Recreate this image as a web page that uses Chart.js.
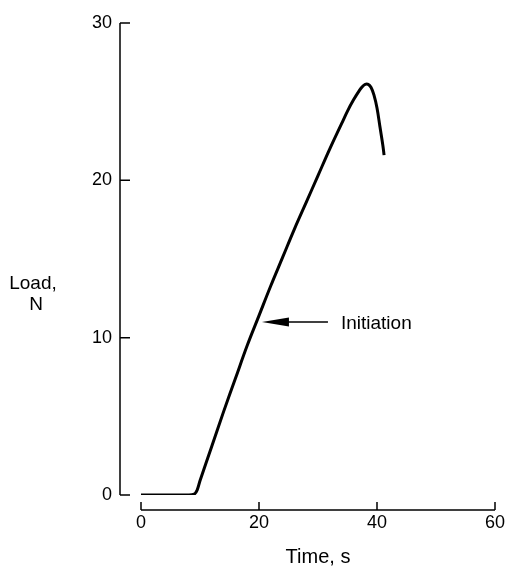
<!DOCTYPE html>
<html>
<head>
<meta charset="utf-8">
<script src="https://cdn.jsdelivr.net/npm/chart.js@4"></script>
<style>
  html, body { margin: 0; padding: 0; background: #fff; }
  #wrap { width: 507px; height: 575px; }
</style>
</head>
<body>
<div id="wrap"><canvas id="loadChart" width="507" height="575"></canvas></div>
<script>
// time (s) and load (N)
const time = [0, 4, 8, 9, 9.5, 10, 12, 14, 16, 18, 20, 22, 24, 26, 28, 30, 32, 34, 35, 36, 37, 37.5, 38, 38.5, 39, 39.5, 40, 40.5, 41, 41.2];
const load = [0, 0, 0, 0.05, 0.3, 0.9, 3.1, 5.3, 7.4, 9.5, 11.4, 13.3, 15.1, 16.9, 18.6, 20.3, 22.0, 23.6, 24.4, 25.1, 25.7, 25.95, 26.1, 26.1, 25.9, 25.4, 24.6, 23.4, 22.2, 21.6];
const xTicks = [0, 20, 40, 60];
const yTicks = [0, 10, 20, 30];
const arrowAt = {x: 20.5, y: 11.0, text: "Initiation"};

const FONT = "'Liberation Sans', Arial, Helvetica, sans-serif";

// axes are drawn detached from the plot area, ticks pointing inward
const axesPlugin = {
  id: 'axesPlugin',
  afterDraw(chart) {
    const ctx = chart.ctx;
    const xs = chart.scales.x, ys = chart.scales.y;
    const yLineX = 120, xLineY = 510;
    ctx.save();
    ctx.strokeStyle = '#000';
    ctx.lineWidth = 1.5;
    ctx.beginPath();
    ctx.moveTo(yLineX, ys.getPixelForValue(30));
    ctx.lineTo(yLineX, ys.getPixelForValue(0));
    yTicks.forEach(v => {
      const py = ys.getPixelForValue(v);
      ctx.moveTo(yLineX, py);
      ctx.lineTo(yLineX + 10, py);
    });
    ctx.moveTo(xs.getPixelForValue(0), xLineY);
    ctx.lineTo(xs.getPixelForValue(60), xLineY);
    xTicks.forEach(v => {
      const px = xs.getPixelForValue(v);
      ctx.moveTo(px, xLineY);
      ctx.lineTo(px, xLineY - 8);
    });
    ctx.stroke();

    // y axis label, horizontal
    ctx.fillStyle = '#000';
    ctx.font = '19px ' + FONT;
    ctx.textAlign = 'center';
    ctx.textBaseline = 'middle';
    ctx.fillText('Load,', 33, 284);
    ctx.fillText('N', 36, 305);

    // arrow + note
    const tx = xs.getPixelForValue(arrowAt.x);
    const ty = ys.getPixelForValue(arrowAt.y);
    ctx.lineWidth = 1.5;
    ctx.beginPath();
    ctx.moveTo(tx + 24, ty);
    ctx.lineTo(tx + 66, ty);
    ctx.stroke();
    ctx.beginPath();
    ctx.moveTo(tx, ty);
    ctx.lineTo(tx + 27, ty - 4.5);
    ctx.lineTo(tx + 27, ty + 4.5);
    ctx.closePath();
    ctx.fill();
    ctx.textAlign = 'left';
    ctx.fillText(arrowAt.text, tx + 79, ty + 2);
    ctx.restore();
  }
};

new Chart(document.getElementById('loadChart'), {
  type: 'line',
  data: {
    datasets: [{
      data: time.map((t, i) => ({x: t, y: load[i]})),
      borderColor: '#000',
      borderWidth: 3,
      pointRadius: 0,
      fill: false,
      tension: 0.4
    }]
  },
  options: {
    responsive: false,
    animation: false,
    layout: { padding: { left: 0, top: 23, right: 12, bottom: 0 } },
    plugins: { legend: { display: false }, tooltip: { enabled: false } },
    scales: {
      x: {
        type: 'linear',
        min: 0, max: 60,
        afterBuildTicks: s => { s.ticks = xTicks.map(v => ({value: v})); },
        afterFit: s => { s.height = 80; s.paddingLeft = 0; s.paddingRight = 0; },
        grid: { display: false },
        border: { display: false },
        ticks: { color: '#000', padding: 9, maxRotation: 0, font: { family: FONT, size: 18 } },
        title: { display: true, text: 'Time, s', color: '#000', padding: { top: 0, bottom: 6 }, font: { family: FONT, size: 20 } }
      },
      y: {
        type: 'linear',
        min: 0, max: 30,
        afterBuildTicks: s => { s.ticks = yTicks.map(v => ({value: v})); },
        afterFit: s => { s.width = 141; s.paddingTop = 0; s.paddingBottom = 0; },
        grid: { display: false },
        border: { display: false },
        ticks: { color: '#000', padding: 21, font: { family: FONT, size: 18 } }
      }
    }
  },
  plugins: [axesPlugin]
});
</script>
</body>
</html>
